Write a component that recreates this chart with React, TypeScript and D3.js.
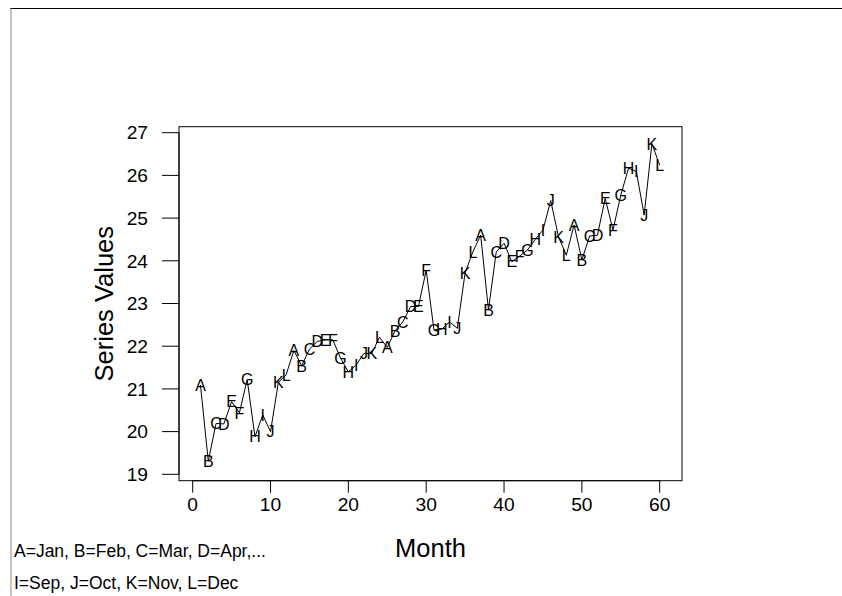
import React from "react";
import * as d3 from "d3";

const monthLetters = ["A", "B", "C", "D", "E", "F", "G", "H", "I", "J", "K", "L"];
const seriesValues = [
  21.09, 19.31, 20.19, 20.18, 20.7, 20.44, 21.22, 19.88, 20.39, 20.0, 21.15, 21.33,
  21.9, 21.54, 21.93, 22.11, 22.15, 22.15, 21.72, 21.4, 21.56, 21.83, 21.83, 22.21,
  21.97, 22.36, 22.57, 22.93, 22.93, 23.78, 22.38, 22.4, 22.57, 22.42, 23.72, 24.21,
  24.6, 22.85, 24.21, 24.41, 23.98, 24.11, 24.25, 24.5, 24.72, 25.41, 24.56, 24.13,
  24.84, 24.02, 24.58, 24.6, 25.46, 24.72, 25.54, 26.17, 26.09, 25.07, 26.74, 26.24,
];
const xTicks = [0, 10, 20, 30, 40, 50, 60];
const yTicks = [19, 20, 21, 22, 23, 24, 25, 26, 27];
const noteLines = ["A=Jan, B=Feb, C=Mar, D=Apr,...", "I=Sep, J=Oct, K=Nov, L=Dec"];

const W = 842;
const H = 596;
const box = { left: 179, right: 682, top: 126.7, bottom: 480.7 };

export default function App() {
  const x = d3.scaleLinear().domain([0, 60]).range([192.7, 659.7]);
  const y = d3.scaleLinear().domain([19, 27]).range([474.3, 132.7]);
  const pts = seriesValues.map((v, i) => ({ i: i + 1, v, lab: monthLetters[i % 12] }));
  const line = d3
    .line<{ i: number; v: number }>()
    .x((d) => x(d.i))
    .y((d) => y(d.v));
  const font = "Liberation Sans, Arial, sans-serif";
  return (
    <svg
      width={W}
      height={H}
      style={{ position: "absolute", left: 0, top: 0, background: "#fff" }}
      fontFamily={font}
    >
      <rect x={0} y={0} width={W} height={H} fill="#fff" />
      {/* outer frame */}
      <line x1={10} x2={W} y1={8.5} y2={8.5} stroke="#000" strokeWidth={1} />
      <line x1={11} x2={11} y1={8} y2={H} stroke="#888" strokeWidth={1} />
      {/* plot box */}
      <rect
        x={box.left}
        y={box.top}
        width={box.right - box.left}
        height={box.bottom - box.top}
        fill="none"
        stroke="#000"
        strokeWidth={1}
      />
      {/* x axis */}
      <line x1={x(0)} x2={x(60)} y1={box.bottom} y2={box.bottom} stroke="#000" />
      {xTicks.map((t) => (
        <g key={"x" + t}>
          <line x1={x(t)} x2={x(t)} y1={box.bottom} y2={box.bottom + 12} stroke="#000" />
          <text x={x(t)} y={510.5} textAnchor="middle" fontSize={19.2} fill="#000">
            {t}
          </text>
        </g>
      ))}
      {/* y axis */}
      <line x1={box.left} x2={box.left} y1={y(19)} y2={y(27)} stroke="#000" />
      {yTicks.map((t) => (
        <g key={"y" + t}>
          <line x1={box.left - 17} x2={box.left} y1={y(t)} y2={y(t)} stroke="#000" />
          <text
            x={148}
            y={y(t)}
            dy="0.35em"
            textAnchor="end"
            fontSize={19.2}
            fill="#000"
          >
            {t}
          </text>
        </g>
      ))}
      {/* titles */}
      <text x={(box.left + box.right) / 2} y={557} textAnchor="middle" fontSize={25.5} fill="#000">
        Month
      </text>
      <text
        transform={`translate(113, ${(box.top + box.bottom) / 2}) rotate(-90)`}
        textAnchor="middle"
        fontSize={25.5}
        fill="#000"
      >
        Series Values
      </text>
      {/* series */}
      <path d={line(pts) || ""} fill="none" stroke="#000" strokeWidth={1} />
      {pts.map((p) => (
        <text
          key={"p" + p.i}
          x={x(p.i)}
          y={y(p.v)}
          dy="0.36em"
          textAnchor="middle"
          fontSize={16}
          fill="#000"
        >
          {p.lab}
        </text>
      ))}
      {/* notes */}
      {noteLines.map((s, k) => (
        <text key={"n" + k} x={14} y={557 + k * 32} fontSize={17.5} fill="#000">
          {s}
        </text>
      ))}
    </svg>
  );
}
